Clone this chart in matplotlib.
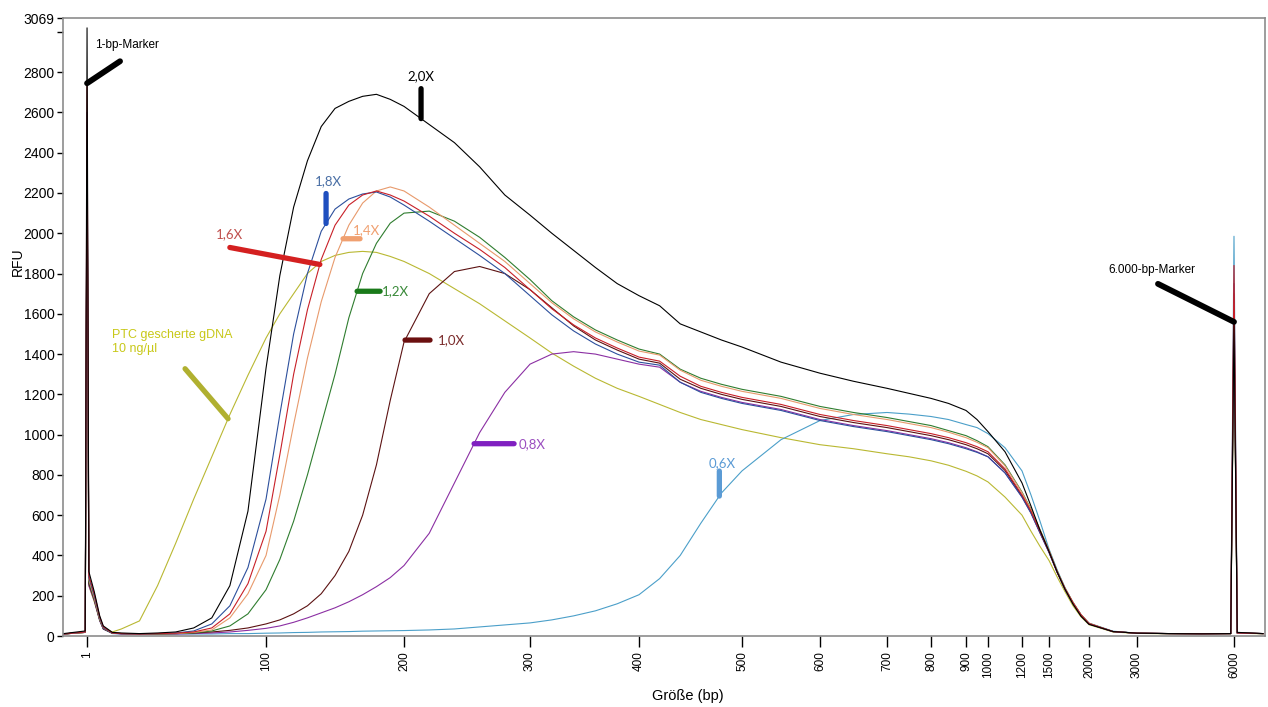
import matplotlib.pyplot as plt
import numpy as np

# Größenleiter (bp) und zugehörige Laufposition (relative Einheiten)
leiter_bp = [1, 100, 200, 300, 400, 500, 600, 700, 800, 900, 1000, 1200, 1500, 2000, 3000, 6000]
leiter_pos = [24, 203, 341, 467, 576, 679, 757, 824, 868, 903, 925, 959, 986, 1026, 1074, 1171]
tick_labels = [str(v) for v in leiter_bp]

# Stützstellen der Kurven (bp)
groesse_bp = [-12, 0, 1, 2, 5, 8, 10, 15, 20,
              30, 40, 50, 60, 70, 80, 90, 100, 110, 120, 130, 140, 150, 160, 170, 180, 190, 200,
              220, 240, 260, 280, 300, 320, 340, 360, 380, 400, 420, 440, 460, 480, 500,
              550, 600, 650, 700, 750, 800, 850, 900, 950, 1000,
              1100, 1200, 1300, 1400, 1500, 1600, 1700, 1800, 1900, 2000,
              2500, 3000, 4000, 5000, 5900, 6000, 6100, 6900]

rfu_2_0x = [12, 25, 3020, 320, 220, 100, 50, 18, 15,
            12, 15, 20, 40, 90, 250, 620, 1330, 1790, 2130, 2360, 2530, 2620, 2655, 2680, 2690, 2665, 2630,
            2540, 2450, 2330, 2190, 2090, 2000, 1915, 1830, 1750, 1690, 1640, 1550, 1510, 1470, 1435,
            1360, 1305, 1265, 1230, 1205, 1180, 1155, 1120, 1075, 1015,
            915, 760, 645, 525, 420, 320, 232, 158, 98, 58,
            22, 14, 12, 11, 12, 1560, 18, 12]
rfu_1_8x = [10, 20, 2600, 290, 200, 90, 40, 15, 12,
            10, 12, 15, 25, 60, 150, 340, 680, 1100, 1500, 1800, 2010, 2120, 2170, 2195, 2205, 2180, 2140,
            2060, 1975, 1890, 1800, 1690, 1595, 1515, 1450, 1400, 1360, 1345, 1260, 1210, 1180, 1155,
            1120, 1070, 1040, 1015, 995, 975, 955, 930, 912, 890,
            810, 690, 610, 512, 415, 318, 232, 162, 102, 60,
            22, 14, 12, 11, 12, 1750, 15, 12]
rfu_1_6x = [10, 20, 2745, 300, 210, 95, 45, 15, 12,
            10, 12, 14, 20, 40, 110, 260, 520, 900, 1300, 1620, 1870, 2040, 2140, 2190, 2210, 2190, 2160,
            2085, 2000, 1920, 1830, 1720, 1625, 1545, 1480, 1430, 1385, 1365, 1290, 1240, 1210, 1185,
            1150, 1100, 1070, 1045, 1025, 1005, 985, 960, 940, 915,
            830, 700, 620, 520, 420, 320, 235, 165, 105, 62,
            22, 14, 12, 11, 12, 1840, 15, 12]
rfu_1_4x = [10, 18, 2500, 280, 190, 85, 40, 15, 12,
            10, 11, 12, 18, 30, 90, 210, 400, 700, 1050, 1380, 1660, 1880, 2040, 2150, 2210, 2230, 2210,
            2130, 2040, 1950, 1860, 1750, 1655, 1575, 1510, 1460, 1415, 1395, 1320, 1270, 1240, 1215,
            1180, 1130, 1100, 1075, 1055, 1035, 1012, 985, 962, 935,
            845, 712, 628, 526, 425, 324, 238, 167, 106, 63,
            22, 14, 12, 11, 12, 1650, 15, 12]
rfu_1_2x = [10, 18, 2450, 270, 185, 80, 38, 14, 12,
            10, 10, 12, 15, 25, 50, 110, 230, 380, 570, 800, 1050, 1300, 1580, 1800, 1950, 2050, 2100,
            2110, 2060, 1980, 1880, 1770, 1665, 1585, 1520, 1470, 1425, 1400, 1325, 1280, 1250, 1225,
            1190, 1140, 1110, 1085, 1065, 1045, 1020, 995, 970, 940,
            850, 715, 630, 528, 426, 325, 238, 167, 106, 63,
            22, 14, 12, 11, 12, 1620, 15, 12]
rfu_1_0x = [10, 18, 2400, 260, 180, 80, 35, 14, 12,
            10, 10, 12, 15, 20, 28, 40, 60, 80, 110, 150, 210, 300, 420, 600, 850, 1170, 1460,
            1700, 1810, 1835, 1800, 1720, 1630, 1540, 1470, 1420, 1375, 1355, 1275, 1230, 1200, 1175,
            1140, 1090, 1060, 1035, 1015, 995, 975, 950, 930, 905,
            822, 695, 615, 516, 418, 319, 234, 164, 104, 61,
            22, 14, 12, 11, 12, 1700, 15, 12]
rfu_0_8x = [10, 18, 2350, 250, 175, 75, 35, 14, 10,
            10, 10, 10, 12, 15, 20, 28, 38, 50, 68, 90, 115, 140, 170, 205, 245, 290, 350,
            510, 760, 1010, 1210, 1350, 1400, 1412, 1400, 1375, 1350, 1335, 1260, 1215, 1185, 1160,
            1125, 1075, 1045, 1020, 1000, 980, 960, 935, 915, 890,
            810, 690, 610, 512, 415, 318, 232, 162, 102, 60,
            22, 14, 12, 11, 12, 1600, 15, 12]
rfu_0_6x = [10, 18, 2550, 260, 180, 80, 35, 12, 10,
            10, 10, 10, 10, 10, 12, 12, 14, 15, 17, 18, 20, 21, 22, 24, 25, 26, 27,
            30, 35, 45, 55, 65, 80, 100, 125, 160, 205, 285, 400, 560, 710, 820,
            975, 1070, 1100, 1110, 1102, 1090, 1075, 1050, 1035, 1005,
            935, 820, 700, 570, 432, 330, 240, 166, 106, 64,
            24, 14, 12, 11, 12, 1985, 15, 12]
rfu_ptc = [10, 18, 2300, 250, 170, 80, 40, 20, 35,
           75, 250, 460, 680, 890, 1100, 1295, 1480, 1600, 1700, 1800, 1860, 1890, 1905, 1910, 1905, 1885, 1860,
           1800, 1725, 1650, 1565, 1480, 1405, 1340, 1280, 1230, 1190, 1150, 1110, 1075, 1050, 1025,
           985, 950, 930, 905, 890, 870, 848, 818, 795, 765,
           690, 600, 520, 445, 375, 295, 220, 150, 95, 56,
           20, 13, 11, 10, 11, 1550, 14, 11]


def _lin(x, xp, fp):
    x = np.asarray(x, dtype=float)
    form = x.shape
    x = np.atleast_1d(x)
    y = np.interp(x, xp, fp)
    lo = x < xp[0]
    hi = x > xp[-1]
    y[lo] = fp[0] + (x[lo] - xp[0]) * (fp[1] - fp[0]) / (xp[1] - xp[0])
    y[hi] = fp[-1] + (x[hi] - xp[-1]) * (fp[-1] - fp[-2]) / (xp[-1] - xp[-2])
    return y.reshape(form)


def bp_zu_pos(x):
    return _lin(x, leiter_bp, leiter_pos)


def pos_zu_bp(x):
    return _lin(x, leiter_pos, leiter_bp)


fig = plt.figure(figsize=(12.68, 7.07), dpi=100)
ax = fig.add_axes([63 / 1268, 71 / 707, 1202 / 1268, 618 / 707])
ax.set_xscale('function', functions=(bp_zu_pos, pos_zu_bp))

kurven = [
    (rfu_ptc, '#b9b832'),
    (rfu_0_6x, '#4b9fc9'),
    (rfu_0_8x, '#8b2fa3'),
    (rfu_1_0x, '#5c1212'),
    (rfu_1_2x, '#2f7d2f'),
    (rfu_1_4x, '#e89a6c'),
    (rfu_1_8x, '#2c4f9c'),
    (rfu_1_6x, '#c82028'),
    (rfu_2_0x, '#000000'),
]
for werte, farbe in kurven:
    ax.plot(groesse_bp, werte, color=farbe, lw=0.8)

ax.set_xlim(-12.3, 6959)
ax.set_ylim(0, 3069)

ax.set_xticks(leiter_bp)
ax.set_xticklabels(tick_labels, rotation=90, fontsize=8.5,
                   family=['Liberation Sans Narrow', 'Liberation Sans', 'DejaVu Sans'])
ax.xaxis.set_minor_locator(plt.NullLocator())
ax.set_yticks(list(range(0, 2801, 200)) + [3069])
ax.set_yticks([3000], minor=True)
for lab in ax.get_yticklabels():
    lab.set_family(['Liberation Sans Narrow', 'Liberation Sans', 'DejaVu Sans'])
    lab.set_fontsize(10)
ax.tick_params(axis='x', direction='out', length=8, width=1, pad=3)
ax.tick_params(axis='y', direction='out', length=4, width=1, pad=2)
ax.tick_params(axis='y', which='minor', length=4, width=1)

for s in ax.spines.values():
    s.set_color('#8c8c8c')
    s.set_linewidth(1.2)

ax.set_ylabel('RFU', fontsize=10, family='Liberation Sans')
ax.yaxis.set_label_coords(-0.032, 0.605)
ax.set_xlabel('Größe (bp)', fontsize=10.5, family='Liberation Sans')
ax.xaxis.set_label_coords(0.52, -0.085)


def markieren(werte, bp, dx, dy, farbe, lw=3.8):
    y = float(np.interp(bp, groesse_bp, werte))
    ax.annotate('', xy=(bp, y), xytext=(dx, dy), textcoords='offset pixels',
                arrowprops=dict(arrowstyle='-', color=farbe, lw=lw, shrinkA=0, shrinkB=0,
                                capstyle='round'))
    return bp, y


def beschriften(punkt, text, dx, dy, farbe, ha='center', size=9.5, fam='Lato'):
    ax.annotate(text, xy=punkt, xytext=(dx, dy), textcoords='offset pixels',
                ha=ha, va='center', color=farbe, fontsize=size, family=fam)


p = markieren(rfu_1_6x, 1, 33, 22, 'black', lw=4.2)
beschriften(p, '1-bp-Marker', 8, 38, 'black', ha='left', size=8.5, fam='Liberation Sans')

p = markieren(rfu_2_0x, 213.5, 0, 30, 'black')
beschriften(p, '2,0X', 0, 42, 'black')

p = markieren(rfu_1_8x, 143.5, 0, 30, '#1f4fbf')
beschriften(p, '1,8X', 2, 42, '#4a6fa5')

p = markieren(rfu_1_6x, 139, -90, 17, '#d42020')
beschriften(p, '1,6X', -90, 30, '#c0504d')

p = markieren(rfu_1_4x, 155.8, 17, 0, '#f0a070')
beschriften(p, '1,4X', 23, 9, '#f0a070')

p = markieren(rfu_1_2x, 166, 23, 0, '#1a7a1a')
beschriften(p, '1,2X', 25, 0, '#3a8a3a', ha='left')

p = markieren(rfu_1_0x, 200.8, 25, 0, '#6b0f0f')
beschriften(p, '1,0X', 33, 0, '#7b2c2c', ha='left')

p = markieren(rfu_0_8x, 255.6, 40, 0, '#8020c0')
beschriften(p, '0,8X', 45, 0, '#9b4fc0', ha='left')

p = markieren(rfu_0_6x, 478, 0, 25, '#5b9bd5')
beschriften(p, '0,6X', 3, 33, '#5b9bd5')

p = markieren(rfu_ptc, 79, -43, 50, '#b0b030')
beschriften(p, 'PTC gescherte gDNA\n10 ng/µl', -116, 77, '#c8c818', ha='left', size=9,
            fam='Liberation Sans')

p = markieren(rfu_2_0x, 6000, -76, 38, 'black', lw=4.2)
beschriften(p, '6.000-bp-Marker', -126, 52, 'black', ha='left', size=8.5, fam='Liberation Sans')

fig.savefig('out.png', dpi=100)
